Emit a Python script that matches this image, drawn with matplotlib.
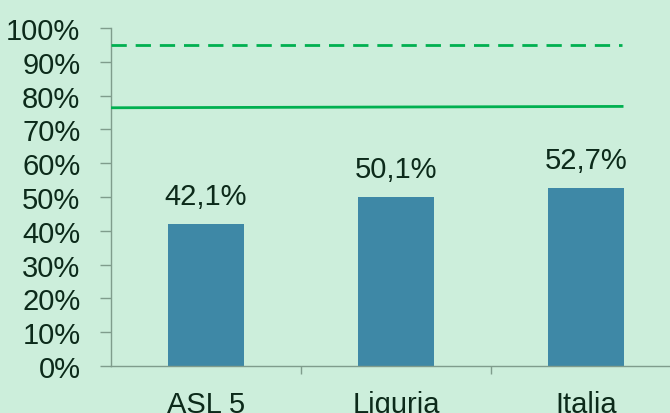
import matplotlib
matplotlib.use("Agg")
import matplotlib.pyplot as plt
from matplotlib.ticker import FixedLocator

categories = ["ASL 5", "Liguria", "Italia"]
values = [42.1, 50.1, 52.7]
value_labels = ["42,1%", "50,1%", "52,7%"]
target_dashed = 95.0
target_solid = [76.4, 76.8]
yticks = list(range(0, 101, 10))
ytick_labels = [f"{v}%" for v in yticks]

bg = "#cceedb"
bar_color = "#3e88a6"
line_color = "#00b050"
text_color = "#0c2a1a"
axis_color = "#7f9c8c"

plt.rcParams['font.family'] = ['Liberation Sans', 'DejaVu Sans']

fig = plt.figure(figsize=(6.7, 4.14), dpi=100, facecolor=bg)
ax = fig.add_axes([111/670, 47/414, (681-111)/670, (367-29)/414])
ax.set_facecolor(bg)

x = list(range(len(categories)))
ax.bar(x, values, width=0.4, color=bar_color, zorder=2)
for xi, v, lab in zip(x, values, value_labels):
    ax.text(xi, v + 4.0, lab, ha="center", va="bottom", fontsize=21, color=text_color)

ax.plot([-0.5, 2.19], [target_dashed, target_dashed], color=line_color, lw=2,
        dashes=(5.5, 3.2), zorder=3)
ax.plot([-0.5, 2.19], target_solid, color=line_color, lw=2, zorder=3)

ax.set_xlim(-0.5, 2.5)
ax.set_ylim(0, 100)
ax.set_yticks(yticks)
ax.set_yticklabels(ytick_labels)
ax.set_xticks(x)
ax.set_xticklabels(categories)
ax.xaxis.set_minor_locator(FixedLocator([0.5, 1.5]))
ax.tick_params(axis="x", which="major", length=0, pad=17, labelsize=21, labelcolor=text_color)
ax.tick_params(axis="x", which="minor", length=6, color=axis_color, width=1)
ax.tick_params(axis="y", length=8, color=axis_color, width=1, pad=14, labelsize=21, labelcolor=text_color)

for s in ["top", "right"]:
    ax.spines[s].set_visible(False)
for s in ["left", "bottom"]:
    ax.spines[s].set_color(axis_color)
    ax.spines[s].set_linewidth(1)

fig.savefig("out.png", dpi=100, facecolor=bg)
